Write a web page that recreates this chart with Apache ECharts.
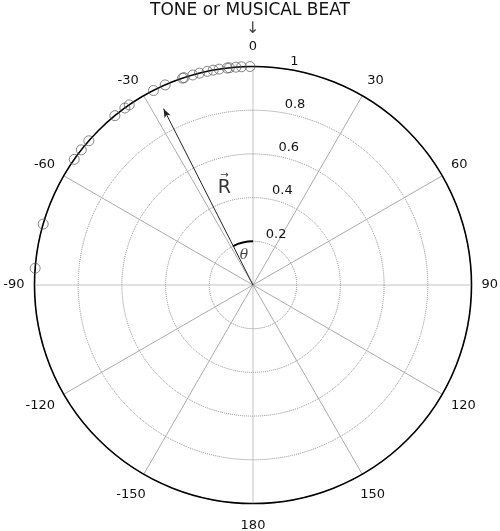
<!DOCTYPE html>
<html>
<head>
<meta charset="utf-8">
<script src="https://cdn.jsdelivr.net/npm/echarts@6/dist/echarts.min.js"></script>
<style>
  html, body { margin: 0; padding: 0; background: #fff; }
  #chart { width: 500px; height: 531px; }
</style>
</head>
<body>
<div id="chart"></div>
<script>
// beat phases (deg), all at unit length
const beatAngles = [-0.8, -3.0, -4.5, -6.2, -6.8, -8.9, -10.5, -12.1, -14.2, -16.0,
  -18.4, -18.8, -23.7, -27.1, -34.5, -35.9, -39.2, -48.7, -51.8, -54.9, -73.8, -85.6];
const beatRadius = beatAngles.map(() => 1);

// resultant vector R and its angle theta
const resultAngle = -26.9;
const resultLength = 0.905;
const thetaArcRadius = 0.2;

const angleTicks = { min: -180, max: 180, interval: 30 };
const radiusTicks = { min: 0, max: 1, interval: 0.2 };

const font = 'DejaVu Sans, Verdana, sans-serif';
const center = [253, 285];
const radius = 218.5;

// small nudges so a few angle labels sit where the original put them
const angleLabelStyle = {
  top: { padding: [0, 0, 3, 0] },
  bottom: { padding: [6, 0, 0, 0] },
  lowLeft: { padding: [5, -7, 0, 0] },
  lowRight: { padding: [5, 0, 0, -7] },
};
const angleLabelKey = { 0: 'top', '-180': 'bottom', '-150': 'lowLeft', 150: 'lowRight' };

const chart = echarts.init(document.getElementById('chart'));

const option = {
  animation: false,
  title: [
    {
      text: 'TONE or MUSICAL BEAT',
      left: 'center',
      top: 2,
      padding: 0,
      textStyle: { fontFamily: font, fontSize: 17, fontWeight: 'normal', color: '#111' },
    },
    {
      text: '↓',
      left: 246,
      top: 21,
      padding: 0,
      textStyle: { fontFamily: font, fontSize: 16, fontWeight: 'normal', color: '#444' },
    },
  ],
  polar: [
    { center: center, radius: radius },
    { center: center, radius: radius },
  ],
  angleAxis: [
    {
      polarIndex: 0,
      type: 'value',
      min: angleTicks.min,
      max: angleTicks.max,
      interval: angleTicks.interval,
      startAngle: 270,
      clockwise: true,
      axisLine: { lineStyle: { color: '#000', width: 1.6 } },
      axisTick: { show: false },
      axisLabel: {
        margin: 10,
        fontFamily: font,
        fontSize: 13,
        color: '#111',
        formatter: (v) => {
          const text = v === -180 ? '180' : String(v);
          const key = angleLabelKey[v];
          return key ? '{' + key + '|' + text + '}' : text;
        },
        rich: angleLabelStyle,
      },
      // cardinal directions are drawn dotted by a series below
      splitLine: {
        show: true,
        lineStyle: { color: ['rgba(0,0,0,0)', '#aaa', '#aaa'], width: 1 },
      },
    },
    {
      polarIndex: 1,
      type: 'value',
      min: 0,
      max: 360,
      startAngle: 81.7,
      show: false,
    },
  ],
  radiusAxis: [
    {
      polarIndex: 0,
      min: radiusTicks.min,
      max: radiusTicks.max,
      interval: radiusTicks.interval,
      axisLine: { show: false },
      axisTick: { show: false },
      axisLabel: { show: false },
      splitLine: { lineStyle: { color: '#888', type: 'dotted', width: 1 } },
    },
    {
      polarIndex: 1,
      min: radiusTicks.min,
      max: radiusTicks.max,
      interval: radiusTicks.interval,
      axisLine: { show: false },
      axisTick: { show: false },
      splitLine: { show: false },
      axisLabel: {
        showMinLabel: false,
        margin: -17,
        align: 'center',
        verticalAlign: 'bottom',
        lineHeight: 20,
        fontFamily: font,
        fontSize: 13,
        color: '#111',
        formatter: (v) => (v === 1 ? '{one|1}' : String(v)),
        rich: { one: { padding: [0, 14, 0, 0] } },
      },
    },
  ],
  series: [
    {
      name: 'axes',
      type: 'line',
      coordinateSystem: 'polar',
      polarIndex: 0,
      symbol: 'none',
      lineStyle: { color: '#888', width: 1, type: 'dotted' },
      data: [[1, -90], [1, 90]],
      silent: true,
    },
    {
      name: 'axes2',
      type: 'line',
      coordinateSystem: 'polar',
      polarIndex: 0,
      symbol: 'none',
      lineStyle: { color: '#888', width: 1, type: 'dotted' },
      data: [[1, 0], [1, 180]],
      silent: true,
    },
    {
      name: 'beats',
      type: 'scatter',
      coordinateSystem: 'polar',
      polarIndex: 0,
      symbol: 'circle',
      symbolSize: 10,
      itemStyle: { color: 'rgba(0,0,0,0)', borderColor: '#555', borderWidth: 0.9 },
      data: beatAngles.map((a, i) => [beatRadius[i], a]),
      z: 5,
    },
    {
      name: 'R',
      type: 'line',
      coordinateSystem: 'polar',
      polarIndex: 0,
      lineStyle: { color: '#222', width: 1 },
      itemStyle: { color: '#222' },
      data: [
        { value: [0, resultAngle], symbol: 'none' },
        { value: [resultLength, resultAngle], symbol: 'arrow', symbolSize: [5, 9], symbolRotate: -resultAngle },
      ],
      z: 4,
    },
    {
      name: 'theta',
      type: 'custom',
      coordinateSystem: 'polar',
      polarIndex: 0,
      data: [[thetaArcRadius, resultAngle, 0]],
      renderItem: (params, api) => {
        const r = api.value(0);
        const c = api.coord([0, 0]);
        const a = api.coord([r, api.value(1)]);
        const b = api.coord([r, api.value(2)]);
        const rad = Math.hypot(b[0] - c[0], b[1] - c[1]);
        return {
          type: 'arc',
          shape: {
            cx: c[0], cy: c[1], r: rad,
            startAngle: Math.atan2(a[1] - c[1], a[0] - c[0]),
            endAngle: Math.atan2(b[1] - c[1], b[0] - c[0]),
            clockwise: true,
          },
          style: { stroke: '#000', lineWidth: 2, fill: null },
        };
      },
      z: 4,
    },
    {
      name: 'labels',
      type: 'scatter',
      coordinateSystem: 'polar',
      polarIndex: 0,
      symbolSize: 0,
      silent: true,
      data: [
        {
          value: [0.475, -16],
          label: {
            show: true,
            position: 'inside',
            color: '#000',
            formatter: '{a|→}\n{b|R}',
            rich: {
              a: { fontFamily: font, fontSize: 10, lineHeight: 6, color: '#000', align: 'center' },
              b: { fontFamily: font, fontSize: 19, lineHeight: 19, color: '#000', align: 'center' },
            },
          },
        },
        {
          value: [0.14, -17],
          label: {
            show: true,
            position: 'inside',
            formatter: 'θ',
            fontFamily: 'DejaVu Serif, serif',
            fontStyle: 'italic',
            fontSize: 14,
            color: '#111',
          },
        },
      ],
    },
  ],
};

chart.setOption(option);
window.addEventListener('resize', () => chart.resize());
</script>
</body>
</html>
